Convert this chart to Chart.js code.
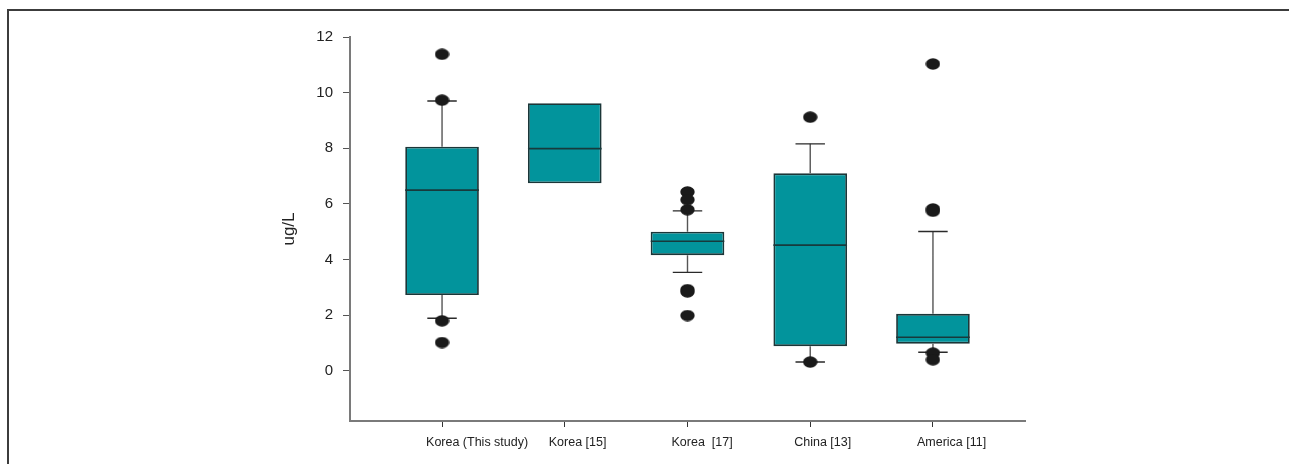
<!DOCTYPE html>
<html>
<head>
<meta charset="utf-8">
<script src="https://cdn.jsdelivr.net/npm/chart.js@4.4.1/dist/chart.umd.min.js"></script>
<style>
  body { margin: 0; background: #fff; }
  #wrap { position: relative; width: 1289px; height: 464px; }
  #frame { position: absolute; left: 7px; top: 9px; right: 0; bottom: 0;
           border-top: 2px solid #3c3c3c; border-left: 2px solid #3c3c3c; }
  canvas { position: absolute; left: 0; top: 0; }
</style>
</head>
<body>
<div id="wrap">
  <div id="frame"></div>
  <canvas id="grafico" width="1289" height="464"></canvas>
</div>
<script>
// dados
const categorias = ["Korea (This study)", "Korea [15]", "Korea  [17]", "China [13]", "America [11]"]
const q1 = [2.73, 6.74, 4.16, 0.89, 0.98]
const mediana = [6.5, 7.99, 4.66, 4.52, 1.21]
const q3 = [8.06, 9.62, 5.0, 7.1, 2.05]
const bigodeBaixo = [1.89, null, 3.54, 0.32, 0.67]
const bigodeAlto = [9.7, null, 5.75, 8.16, 5.01]
const outliers = [
    [11.38, 9.73, 1.8, 1.02],
    [],
    [6.43, 6.15, 5.79, 2.92, 2.84, 1.99],
    [9.12, 0.32],
    [11.03, 5.82, 5.74, 0.64, 0.4]
]
const yTicks = [0, 2, 4, 6, 8, 10, 12]

const meiaCaixa = 0.3
const meiaTampa = 0.12
const fonte = "Arial, 'Liberation Sans', sans-serif"

// segmentos separados por pontos nulos
const quebra = (x) => ({ x: x, y: null })
let hastes = []
let tampas = []
let medianas = []
let pontos = []
categorias.forEach((c, i) => {
    const x = i + 1
    if (bigodeAlto[i] != null) {
        hastes.push({ x: x, y: q3[i] }, { x: x, y: bigodeAlto[i] }, quebra(x))
        tampas.push({ x: x - meiaTampa, y: bigodeAlto[i] }, { x: x + meiaTampa, y: bigodeAlto[i] }, quebra(x))
    }
    if (bigodeBaixo[i] != null) {
        hastes.push({ x: x, y: q1[i] }, { x: x, y: bigodeBaixo[i] }, quebra(x))
        tampas.push({ x: x - meiaTampa, y: bigodeBaixo[i] }, { x: x + meiaTampa, y: bigodeBaixo[i] }, quebra(x))
    }
    medianas.push({ x: x - meiaCaixa, y: mediana[i] }, { x: x + meiaCaixa, y: mediana[i] }, quebra(x))
    outliers[i].forEach((v) => pontos.push({ x: x, y: v }))
})

// ponto eliptico
const bola = document.createElement("canvas")
bola.width = 15
bola.height = 12
const bctx = bola.getContext("2d")
bctx.fillStyle = "#1a1a1a"
bctx.beginPath()
bctx.ellipse(7.5, 6, 7.2, 5.7, 0, 0, Math.PI * 2)
bctx.fill()

const grafico = document.getElementById("grafico")

new Chart(grafico, {
    type: "bar",
    data: {
        datasets: [
            {
                type: "line",
                data: pontos,
                showLine: false,
                pointStyle: bola,
                pointRadius: 6,
                order: 0
            },
            {
                type: "line",
                data: medianas,
                borderColor: "#173a3c",
                borderWidth: 1.7,
                pointRadius: 0,
                spanGaps: false,
                order: 1
            },
            {
                type: "line",
                data: tampas,
                borderColor: "#2a2a2a",
                borderWidth: 1.4,
                pointRadius: 0,
                spanGaps: false,
                order: 2
            },
            {
                type: "line",
                data: hastes,
                borderColor: "#555555",
                borderWidth: 1.4,
                pointRadius: 0,
                spanGaps: false,
                order: 3
            },
            {
                type: "bar",
                data: categorias.map((c, i) => ({ x: i + 1, y: [q1[i], q3[i]] })),
                backgroundColor: "#02949c",
                borderColor: "#1b3638",
                borderWidth: 1.8,
                borderSkipped: false,
                categoryPercentage: 1,
                barPercentage: 2 * meiaCaixa,
                order: 4
            }
        ]
    },
    options: {
        responsive: false,
        animation: false,
        layout: {
            padding: { left: 276, right: 264, top: 37, bottom: 13 }
        },
        plugins: {
            legend: { display: false },
            tooltip: { enabled: false }
        },
        scales: {
            x: {
                type: "linear",
                min: 0.25,
                max: 5.75,
                offset: false,
                afterBuildTicks: (escala) => {
                    escala.ticks = categorias.map((c, i) => ({ value: i + 1 }))
                },
                afterFit: (escala) => { escala.height = 30 },
                grid: {
                    offset: false,
                    drawOnChartArea: false,
                    drawTicks: true,
                    tickLength: 6,
                    color: "#333333",
                    lineWidth: 1
                },
                border: { display: true, color: "#7a7a7a", width: 2 },
                ticks: {
                    autoSkip: false,
                    maxRotation: 0,
                    align: "start",
                    labelOffset: -16,
                    padding: 8,
                    color: "#222222",
                    font: { family: fonte, size: 12.5 },
                    callback: (valor) => categorias[valor - 1]
                }
            },
            y: {
                min: -1.8,
                max: 12,
                afterBuildTicks: (escala) => {
                    escala.ticks = yTicks.map((v) => ({ value: v }))
                },
                afterFit: (escala) => { escala.width = 74 },
                grid: {
                    drawOnChartArea: false,
                    drawTicks: true,
                    tickLength: 7,
                    color: "#555555",
                    lineWidth: 1
                },
                border: { display: true, color: "#7a7a7a", width: 2 },
                ticks: {
                    padding: 10,
                    color: "#222222",
                    font: { family: fonte, size: 15 }
                },
                title: {
                    display: true,
                    text: "ug/L",
                    color: "#222222",
                    padding: { top: 3, bottom: 0 },
                    font: { family: fonte, size: 17 }
                }
            }
        }
    }
})
</script>
</body>
</html>
